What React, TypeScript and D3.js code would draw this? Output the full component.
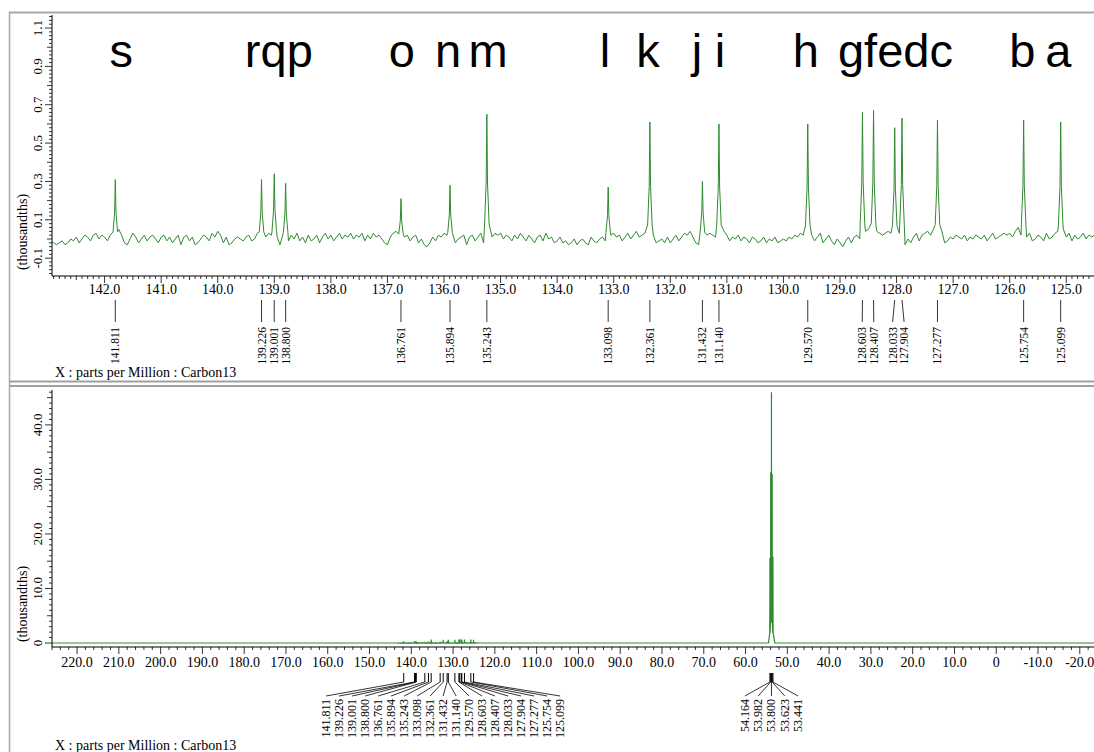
import * as d3 from "d3";

// peak list (ppm) and heights (thousandths)
const peakPpm = [141.811, 139.226, 139.001, 138.8, 136.761, 135.894, 135.243, 133.098, 132.361, 131.432, 131.14, 129.57, 128.603, 128.407, 128.033, 127.904, 127.277, 125.754, 125.099];
const peakHeight = [0.31, 0.31, 0.34, 0.29, 0.21, 0.28, 0.65, 0.27, 0.61, 0.3, 0.6, 0.6, 0.66, 0.67, 0.58, 0.63, 0.62, 0.62, 0.61];

// CD2Cl2 quintet in the full spectrum
const solventPpm = [54.164, 53.982, 53.8, 53.623, 53.441];
const solventHeight = [15.6, 31.3, 46.0, 31.0, 15.8];

// assignment letters, placed by ppm
const letters = ["s", "rqp", "o", "n", "m", "l", "k", "j", "i", "h", "gfedc", "b", "a"];
const letterPpm = [141.707, 138.92, 136.744, 135.93, 135.22, 133.155, 132.395, 131.53, 131.12, 129.604, 128.02, 125.777, 125.14];

// baseline noise, every 0.05 ppm from 143.0 down to 124.5
const noiseStart = 143.0;
const noiseStep = 0.05;
const noise = [
  0.01, -0.01, -0.02, -0.03, -0.02, -0.01, -0.03, -0.02, 0.0, -0.01,
  0.01, -0.02, 0.0, 0.02, 0.01, -0.01, 0.02, 0.03, 0.0, 0.02,
  0.01, -0.01, 0.02, 0.01, 0.03, 0.05, 0.02, -0.02, -0.03, 0.0,
  0.03, 0.01, -0.02, 0.0, 0.02, -0.01, 0.01, 0.02, 0.0, -0.02,
  0.01, 0.02, -0.01, 0.01, -0.02, 0.0, 0.02, -0.03, 0.01, 0.02,
  -0.01, 0.01, -0.03, -0.02, 0.0, 0.02, 0.01, -0.01, 0.03, 0.01,
  0.04, 0.02, -0.02, 0.01, -0.03, -0.02, 0.0, 0.01, 0.0, -0.01,
  0.01, 0.02, -0.01, 0.0, 0.03, 0.02, 0.04, 0.01, 0.03, 0.02,
  0.04, 0.01, -0.03, 0.02, 0.03, -0.01, 0.02, 0.0, 0.03, -0.01,
  0.01, -0.02, 0.02, -0.01, 0.0, 0.02, -0.02, 0.01, 0.03, 0.0,
  0.02, -0.01, 0.01, 0.03, 0.0, 0.02, 0.01, 0.03, 0.0, 0.02,
  0.01, 0.03, -0.01, 0.02, 0.0, 0.03, 0.01, 0.02, 0.0, -0.02,
  -0.03, 0.01, 0.03, 0.04, 0.02, 0.03, 0.01, 0.02, -0.01, 0.01,
  0.02, -0.02, 0.0, -0.03, -0.04, -0.02, 0.01, -0.01, 0.02, 0.01,
  0.03, 0.02, -0.01, 0.01, -0.02, 0.0, 0.01, 0.02, -0.03, 0.01,
  0.02, -0.01, 0.01, 0.03, -0.02, 0.02, 0.0, 0.01, 0.03, 0.02,
  0.03, 0.0, 0.02, 0.01, -0.01, 0.02, 0.0, 0.03, 0.01, -0.01,
  0.02, 0.0, -0.02, 0.01, 0.02, -0.01, 0.03, 0.0, 0.01, -0.02,
  -0.01, 0.01, -0.02, -0.01, -0.03, -0.02, 0.0, -0.03, -0.01, 0.0,
  -0.02, -0.03, 0.01, -0.01, -0.02, 0.0, 0.01, -0.01, 0.02, 0.02,
  0.03, 0.01, 0.02, -0.01, 0.01, 0.03, 0.0, 0.02, 0.04, 0.01,
  0.02, 0.03, 0.01, 0.04, 0.02, -0.02, -0.01, 0.0, -0.02, 0.01,
  -0.02, 0.0, 0.02, -0.01, 0.01, 0.03, 0.02, 0.04, 0.01, -0.02,
  -0.03, -0.04, 0.01, 0.02, 0.03, 0.02, 0.01, 0.03, 0.02, 0.04,
  0.02, -0.01, 0.01, 0.0, 0.02, -0.01, 0.01, 0.0, -0.02, 0.01,
  0.0, -0.02, -0.01, 0.01, -0.02, 0.0, -0.01, 0.01, -0.02, -0.01,
  0.0, -0.01, 0.01, 0.0, 0.02, 0.01, 0.03, 0.02, 0.01, 0.04,
  0.02, -0.01, 0.01, 0.03, -0.02, 0.0, 0.02, -0.01, -0.03, 0.0,
  -0.02, -0.04, -0.01, 0.01, -0.02, 0.01, 0.02, 0.0, 0.03, 0.04,
  0.05, 0.03, 0.06, 0.04, 0.03, 0.02, 0.03, 0.04, 0.03, 0.05,
  0.05, 0.03, -0.02, -0.03, 0.0, -0.02, 0.01, 0.03, -0.01, 0.02,
  0.03, 0.04, 0.02, 0.05, 0.03, 0.06, 0.04, -0.02, -0.01, 0.01,
  0.0, 0.02, 0.01, 0.0, 0.02, -0.01, 0.01, 0.0, 0.02, 0.01,
  0.0, 0.02, -0.01, 0.01, 0.03, 0.0, 0.01, 0.02, 0.03, 0.02,
  0.03, 0.01, 0.04, 0.06, 0.02, -0.02, 0.01, 0.03, -0.01, 0.0,
  0.02, 0.01, -0.01, 0.03, 0.0, 0.01, 0.03, 0.04, 0.02, 0.05,
  0.01, 0.03, -0.01, 0.02, 0.0, 0.01, 0.03, 0.0, 0.02, 0.01,
  0.02,
];

const topXTicks = d3.range(142, 124.5, -1);
const topYTicks = [-0.1, 0.1, 0.3, 0.5, 0.7, 0.9, 1.1];
const botXTicks = d3.range(220, -21, -10);
const botYTicks = [0, 10, 20, 30, 40];

const W = 1094;
const H = 752;
const GREEN = "#2e8b2e";
const SERIF = "'Liberation Serif', 'Times New Roman', serif";
const SANS = "'Liberation Sans', Arial, sans-serif";
const LEFT = 52;

function buildSpectrum(peaks: [number, number][], hi: number, lo: number) {
  const pts: [number, number][] = [];
  const nearPeak = (p: number, d: number) => peaks.some(([pp]) => Math.abs(pp - p) < d);
  const noiseEnd = noiseStart - (noise.length - 1) * noiseStep;
  noise.forEach((v, i) => {
    const p = noiseStart - i * noiseStep;
    if (nearPeak(p, 0.045)) return;
    pts.push([p, v]);
  });
  // flat baseline outside the recorded noise window
  d3.range(Math.ceil(hi), lo, -0.5).forEach((p) => {
    if (p <= noiseStart && p >= noiseEnd) return;
    if (nearPeak(p, 0.1)) return;
    pts.push([p, 0]);
  });
  peaks.forEach(([p, h]) => {
    pts.push([p + 0.04, 0.12 * h], [p + 0.012, 0.45 * h], [p, h], [p - 0.012, 0.45 * h], [p - 0.04, 0.12 * h]);
  });
  pts.push([hi, 0], [lo, 0]);
  return pts.sort((a, b) => b[0] - a[0]);
}

// spread crowded labels so that they are at least `gap` apart, clusters kept centred
function spread(xs: number[], gap: number) {
  let groups = xs.map((x, i) => ({ idx: [i], center: x }));
  let changed = true;
  while (changed) {
    changed = false;
    for (let k = 0; k < groups.length - 1; k++) {
      const a = groups[k];
      const b = groups[k + 1];
      const aEnd = a.center + ((a.idx.length - 1) * gap) / 2;
      const bStart = b.center - ((b.idx.length - 1) * gap) / 2;
      if (bStart - aEnd < gap - 1e-6) {
        const idx = a.idx.concat(b.idx);
        const center = d3.mean(idx, (i) => xs[i]) as number;
        groups.splice(k, 2, { idx, center });
        changed = true;
        break;
      }
    }
  }
  const out = new Array(xs.length);
  groups.forEach((g) => {
    g.idx.forEach((i, j) => {
      out[i] = g.center - ((g.idx.length - 1) * gap) / 2 + j * gap;
    });
  });
  return out as number[];
}

const PeakLabels = ({ xs, labels, gap, y0, y1, y2, textTop, fontSize }: any) => {
  const lx = spread(xs, gap);
  return (
    <g>
      {xs.map((x: number, i: number) => (
        <g key={i}>
          {y1 > y0 && <line x1={x} x2={x} y1={y0} y2={y1} stroke="#000" strokeWidth={1} />}
          <line x1={x} x2={lx[i]} y1={y1} y2={y2} stroke="#000" strokeWidth={0.8} />
          <text
            transform={`translate(${lx[i] + 4},${textTop}) rotate(-90)`}
            textAnchor="end"
            fontFamily={SERIF}
            fontSize={fontSize}
          >
            {labels[i]}
          </text>
        </g>
      ))}
    </g>
  );
};

export default function App() {
  // ---------- top panel (expansion) ----------
  const xTop = d3.scaleLinear().domain([142.93, 124.51]).range([LEFT, W]);
  const yTop = d3.scaleLinear().domain([-0.193, 1.168]).range([276, 15]);
  const topAxisY = 276;

  const aromatic: [number, number][] = peakPpm.map((p, i) => [p, peakHeight[i]]);
  const topPts = buildSpectrum(aromatic, 143.5, 124.0);
  const topLine = d3
    .line<[number, number]>()
    .x((d) => xTop(d[0]))
    .y((d) => yTop(d[1]));

  const topMinorX = d3.range(1429, 1245, -1).map((v) => v / 10);
  const topMinorY = d3.range(-9, 59).map((v) => v / 50);

  // ---------- bottom panel (full) ----------
  const xBot = d3.scaleLinear().domain([226, -23.4]).range([LEFT, W]);
  const yBot = d3.scaleLinear().domain([-0.73, 46.4]).range([647, 390]);
  const botAxisY = 647;

  const all: [number, number][] = aromatic.concat(solventPpm.map((p, i) => [p, solventHeight[i]] as [number, number]));
  const botPts = buildSpectrum(all, 226, -23.4);
  const botLine = d3
    .line<[number, number]>()
    .x((d) => xBot(d[0]))
    .y((d) => yBot(d[1]));

  const botMinorX = d3.range(226, -24, -2);
  const botMinorY = d3.range(0, 47, 1);

  const aroXs = peakPpm.map((p) => xBot(p));
  const solXs = solventPpm.map((p) => xBot(p));

  return (
    <svg width={W} height={H} style={{ position: "absolute", left: 0, top: 0, background: "#fff" }}>
      <defs>
        <clipPath id="clipTop">
          <rect x={LEFT} y={15} width={W - LEFT} height={topAxisY - 15} />
        </clipPath>
        <clipPath id="clipBot">
          <rect x={LEFT} y={390} width={W - LEFT} height={botAxisY - 390} />
        </clipPath>
      </defs>
      <rect width={W} height={H} fill="#fff" />

      {/* window frame */}
      <line x1={9} x2={W} y1={12.5} y2={12.5} stroke="#a8a8a8" strokeWidth={2} />
      <line x1={9.5} x2={9.5} y1={12} y2={H} stroke="#a8a8a8" strokeWidth={1.5} />
      <line x1={9} x2={W} y1={381.5} y2={381.5} stroke="#a0a0a0" strokeWidth={2} />
      <line x1={9} x2={W} y1={386} y2={386} stroke="#a0a0a0" strokeWidth={2} />

      {/* ================= top panel ================= */}
      <g clipPath="url(#clipTop)">
        <path d={topLine(topPts) || ""} fill="none" stroke={GREEN} strokeWidth={1} />
      </g>
      {letters.map((t, i) => (
        <text key={t} x={xTop(letterPpm[i])} y={67} textAnchor="middle" fontFamily={SANS} fontSize={47}>
          {t}
        </text>
      ))}

      <line x1={LEFT} x2={LEFT} y1={15} y2={topAxisY} stroke="#000" />
      <line x1={LEFT} x2={W} y1={topAxisY} y2={topAxisY} stroke="#000" />
      {topMinorY.map((v) => {
        const major = topYTicks.some((t) => Math.abs(t - v) < 1e-6);
        const mid = Math.abs(v * 10 - Math.round(v * 10)) < 1e-6;
        const len = major ? 7 : mid ? 5 : 3;
        return <line key={v} x1={LEFT - len} x2={LEFT} y1={yTop(v)} y2={yTop(v)} stroke="#000" strokeWidth={0.8} />;
      })}
      {topYTicks.map((t) => (
        <text key={t} transform={`translate(42,${yTop(t)}) rotate(-90)`} textAnchor="middle" fontFamily={SERIF} fontSize={13}>
          {t.toFixed(1)}
        </text>
      ))}
      <text transform={`translate(27,232) rotate(-90)`} textAnchor="middle" fontFamily={SERIF} fontSize={14}>
        (thousandths)
      </text>

      {topMinorX.map((v) => {
        const major = Math.abs(v - Math.round(v)) < 1e-6;
        const half = Math.abs(v * 2 - Math.round(v * 2)) < 1e-6;
        const len = major ? 7 : half ? 4 : 3;
        return <line key={v} x1={xTop(v)} x2={xTop(v)} y1={topAxisY} y2={topAxisY + len} stroke="#000" strokeWidth={0.8} />;
      })}
      {topXTicks.map((t) => (
        <text key={t} x={xTop(t)} y={294} textAnchor="middle" fontFamily={SERIF} fontSize={14}>
          {t.toFixed(1)}
        </text>
      ))}

      <PeakLabels
        xs={peakPpm.map((p) => xTop(p))}
        labels={peakPpm.map((p) => p.toFixed(3))}
        gap={11.5}
        y0={300}
        y1={300}
        y2={322}
        textTop={327}
        fontSize={11.5}
      />
      <text x={55} y={377} fontFamily={SERIF} fontSize={14}>
        X : parts per Million : Carbon13
      </text>

      {/* ================= bottom panel ================= */}
      <g clipPath="url(#clipBot)">
        <path d={botLine(botPts) || ""} fill="none" stroke={GREEN} strokeWidth={1.2} />
      </g>
      <line x1={LEFT} x2={LEFT} y1={390} y2={botAxisY} stroke="#000" />
      <line x1={LEFT} x2={W} y1={botAxisY} y2={botAxisY} stroke="#000" />
      {botMinorY.map((v) => {
        const len = v % 10 === 0 ? 7 : v % 5 === 0 ? 5 : 3;
        return <line key={v} x1={LEFT - len} x2={LEFT} y1={yBot(v)} y2={yBot(v)} stroke="#000" strokeWidth={0.8} />;
      })}
      {botYTicks.map((t) => (
        <text key={t} transform={`translate(42,${yBot(t)}) rotate(-90)`} textAnchor="middle" fontFamily={SERIF} fontSize={13}>
          {t === 0 ? "0" : t.toFixed(1)}
        </text>
      ))}
      <text transform={`translate(27,604) rotate(-90)`} textAnchor="middle" fontFamily={SERIF} fontSize={14}>
        (thousandths)
      </text>

      {botMinorX.map((v) => {
        const len = v % 10 === 0 ? 7 : 3;
        return <line key={v} x1={xBot(v)} x2={xBot(v)} y1={botAxisY} y2={botAxisY + len} stroke="#000" strokeWidth={0.8} />;
      })}
      {botXTicks.map((t) => (
        <text key={t} x={xBot(t)} y={667} textAnchor="middle" fontFamily={SERIF} fontSize={14}>
          {t === 0 ? "0" : t.toFixed(1)}
        </text>
      ))}

      <PeakLabels
        xs={aroXs}
        labels={peakPpm.map((p) => p.toFixed(3))}
        gap={13}
        y0={673}
        y1={682}
        y2={696}
        textTop={699}
        fontSize={12}
      />
      <PeakLabels
        xs={solXs}
        labels={solventPpm.map((p) => p.toFixed(3))}
        gap={13.3}
        y0={673}
        y1={682}
        y2={696}
        textTop={699}
        fontSize={12}
      />
      <text x={55} y={750} fontFamily={SERIF} fontSize={14}>
        X : parts per Million : Carbon13
      </text>
    </svg>
  );
}
